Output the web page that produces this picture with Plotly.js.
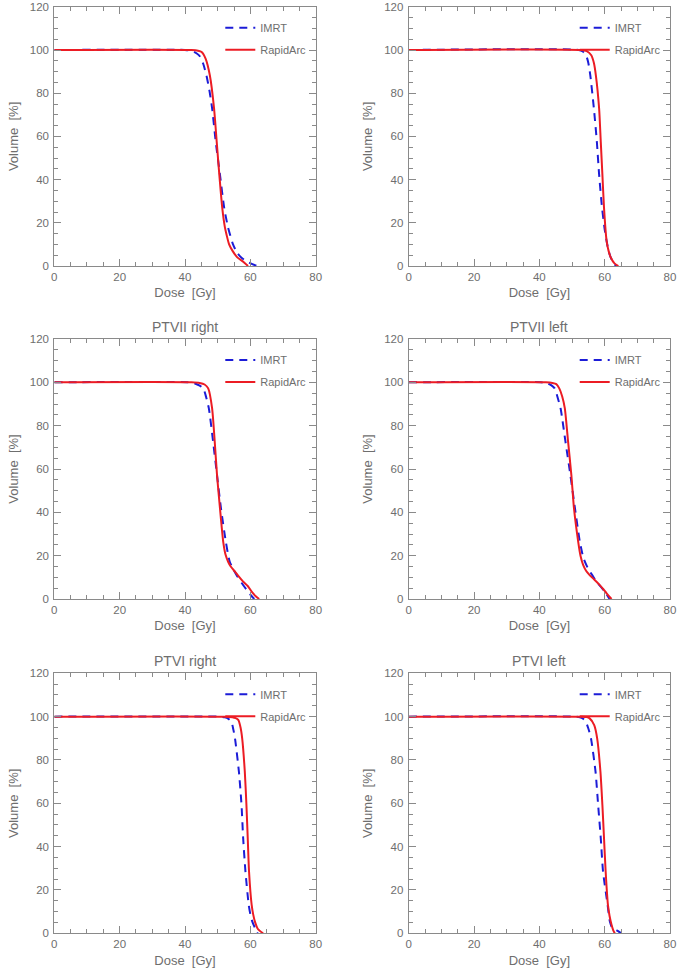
<!DOCTYPE html>
<html>
<head>
<meta charset="utf-8">
<script src="https://cdn.plot.ly/plotly-3.0.1.min.js"></script>
<style>html,body{margin:0;padding:0;background:#fff;}#chart{width:685px;height:977px;}</style>
</head>
<body>
<div id="chart"></div>
<script>
// ---- data (dose in Gy, volume in %) ----
const panelTitles = ["", "", "PTVII right", "PTVII left", "PTVI right", "PTVI left"];
const seriesNames = ["IMRT", "RapidArc"];

// Panel A (top left)
const imrtDoseA = [0, 40, 42, 43.5, 44.6, 45.6, 46.6, 47.5, 48.3, 49.4, 50.7, 52, 53.2, 54.7, 56, 57.3, 59, 60.4, 62];
const imrtVolA  = [100, 100, 99.6, 98.5, 97, 93.5, 88, 81, 73, 57.6, 42.3, 26.9, 17.7, 10, 6, 3.8, 2, 1, 0];
const raDoseA   = [0, 42, 44, 45.1, 46.3, 47.6, 48.9, 49.7, 50.5, 51.4, 52.2, 52.7, 53.5, 54.6, 56, 57.8, 59.3];
const raVolA    = [100, 100, 99.7, 99.1, 96, 88.3, 72.9, 57.6, 42.3, 26.9, 18, 14.6, 10, 6.9, 4, 2, 0];

// Panel B (top right)
const imrtDoseB = [0, 52, 53.3, 54.3, 55, 55.6, 56.7, 57.6, 58.3, 59.2, 60, 60.6, 61.2, 61.9, 62.7, 63.5];
const imrtVolB  = [100, 100, 99.3, 97.6, 94, 88.3, 72.9, 57.6, 42.3, 26.9, 17, 11.5, 7, 3.8, 1.5, 0];
const raDoseB   = [0, 53, 54.5, 55.9, 56.7, 57.3, 58.3, 58.8, 59.3, 59.8, 60.6, 61.2, 61.9, 63, 64.2];
const raVolB    = [100, 100, 99.5, 97.6, 94, 88.3, 72.9, 57.6, 42.3, 26.9, 11.5, 7, 3.8, 1.2, 0];

// Panel C (PTVII right)
const imrtDoseC = [0, 41, 43, 44.5, 45.6, 46.5, 47.3, 48.6, 49.8, 51, 52.5, 53.7, 55.8, 57.3, 59, 60.3, 61.2];
const imrtVolC  = [100, 100, 99.5, 98.5, 97.2, 93, 88, 72.6, 57.2, 41.9, 26.4, 17.2, 11, 7.5, 4, 1.5, 0];
const raDoseC   = [0, 42, 44.5, 46, 47.1, 48.3, 49.1, 49.8, 50.7, 51.7, 52.4, 53.2, 54, 55.3, 56.5, 57.8, 59.2, 60.4, 61.5, 62.7];
const raVolC    = [100, 100, 99.7, 99, 97.2, 88, 72.6, 57.2, 41.9, 26.4, 20.5, 17.2, 15, 12.6, 10.3, 8, 6, 3.4, 1.5, 0];

// Panel D (PTVII left)
const imrtDoseD = [0, 40.5, 42.5, 43.7, 44.7, 45.6, 46.5, 48, 49.5, 50.9, 52.4, 53.5, 54.9, 56.2, 57.5, 58.8, 60, 61.5];
const imrtVolD  = [100, 100, 99.5, 98.6, 97.2, 93, 88, 72.6, 57.2, 41.9, 26.4, 19, 14.1, 11, 8, 5.7, 3.4, 0];
const raDoseD   = [0, 42, 44, 45.2, 46.1, 47, 47.8, 48.8, 49.8, 50.6, 51.9, 52.6, 53.4, 54.3, 55.4, 56.8, 58.5, 59.6, 60.6, 62.1];
const raVolD    = [100, 100, 99.7, 99.2, 97.2, 93.5, 88, 72.6, 57.2, 41.9, 26.4, 20, 15.7, 13, 11, 9, 6.4, 4.5, 2.6, 0];

// Panel E (PTVI right)
const imrtDoseE = [0, 50, 52.2, 53.3, 54.2, 54.8, 55.3, 56.5, 57.3, 57.8, 58.5, 59.5, 60.1, 60.6, 61.4, 62.2];
const imrtVolE  = [100, 100, 99.7, 99, 97.7, 94, 90, 74.6, 59.2, 43.9, 28.5, 13.1, 8, 5.4, 2.5, 0];
const raDoseE   = [0, 52, 54.5, 55.5, 56.3, 57, 57.5, 58.3, 58.8, 59.2, 59.6, 60.4, 60.9, 61.4, 62.3, 63.9];
const raVolE    = [100, 100, 99.7, 99.3, 98.5, 95, 90, 74.6, 59.2, 43.9, 28.5, 13.1, 8.5, 5.4, 2, 0];

// Panel F (PTVI left)
const imrtDoseF = [0, 51, 52.4, 53.4, 54.2, 55, 55.8, 57.2, 58, 58.8, 59.5, 60.9, 61.6, 62.3, 63.6, 65.1];
const imrtVolF  = [100, 100, 99.7, 99, 97.7, 94.5, 90, 74.6, 59.2, 43.9, 28.5, 13.1, 5.4, 2.5, 1.5, 0];
const raDoseF   = [0, 53, 54.5, 55.4, 56.8, 57.7, 58.7, 59.3, 59.8, 60.3, 61, 61.5, 62.1, 62.6, 63.1];
const raVolF    = [100, 100, 99.8, 99.2, 96.1, 90, 74.6, 59.2, 43.9, 28.5, 13.1, 8, 3.9, 1.5, 0];

const xTickVals = [0, 20, 40, 60, 80];
const yTickVals = [0, 20, 40, 60, 80, 100, 120];

// ---- build ----
const W = 685, H = 977;
const panels = [
  [imrtDoseA, imrtVolA, raDoseA, raVolA],
  [imrtDoseB, imrtVolB, raDoseB, raVolB],
  [imrtDoseC, imrtVolC, raDoseC, raVolC],
  [imrtDoseD, imrtVolD, raDoseD, raVolD],
  [imrtDoseE, imrtVolE, raDoseE, raVolE],
  [imrtDoseF, imrtVolF, raDoseF, raVolF]
];
// pixel boxes [left, right, top, bottom]
const colX = [[54.3, 315.7], [408.7, 670]];
const rowY = [[6.8, 266], [339, 599], [673.3, 933.3]];

const txt = '#6e6e6e';
const axc = '#8a8a8a';
const fam = 'Liberation Sans, Arial, sans-serif';

const data = [];
const layout = {
  width: W, height: H,
  margin: {l: 0, r: 0, t: 0, b: 0},
  paper_bgcolor: '#fff', plot_bgcolor: '#fff',
  font: {family: fam, color: txt, size: 12},
  annotations: []
};

panels.forEach((p, i) => {
  const n = i + 1;
  const sfx = n === 1 ? '' : String(n);
  const col = i % 2, row = Math.floor(i / 2);
  const [l, r] = colX[col];
  const [t, b] = rowY[row];
  const legName = 'legend' + sfx;

  data.push({
    x: p[0], y: p[1], type: 'scatter', mode: 'lines', name: seriesNames[0],
    xaxis: 'x' + sfx, yaxis: 'y' + sfx, legend: legName, legendgroup: 'a' + n,
    line: {color: 'rgb(28,28,215)', width: 2, dash: '8px,6px', shape: 'spline', smoothing: 0.6}
  });
  data.push({
    x: p[2], y: p[3], type: 'scatter', mode: 'lines', name: seriesNames[1],
    xaxis: 'x' + sfx, yaxis: 'y' + sfx, legend: legName, legendgroup: 'b' + n,
    line: {color: 'rgb(236,28,36)', width: 2, shape: 'spline', smoothing: 0.6}
  });

  const common = {
    showline: true, linecolor: axc, linewidth: 1, mirror: 'ticks',
    ticks: 'inside', ticklen: 7, tickwidth: 1, tickcolor: axc,
    showgrid: false, zeroline: false, ticklabeloverflow: 'allow',
    tickfont: {family: fam, size: 11.5, color: txt},
    minor: {dtick: 5, ticks: 'inside', ticklen: 4, tickwidth: 1, tickcolor: axc, showgrid: false}
  };
  layout['xaxis' + sfx] = Object.assign({}, common, {
    domain: [l / W, r / W], anchor: 'y' + sfx, range: [0, 80],
    tickmode: 'array', tickvals: xTickVals, ticktext: xTickVals.map(String),
    title: {text: 'Dose  [Gy]', font: {family: fam, size: 13, color: txt}, standoff: 6}
  });
  layout['yaxis' + sfx] = Object.assign({}, common, {
    domain: [1 - b / H, 1 - t / H], anchor: 'x' + sfx, range: [0, 120],
    tickmode: 'array', tickvals: yTickVals, ticktext: yTickVals.map(String),
    ticklabelstandoff: 2,
    title: {text: 'Volume  [%]', font: {family: fam, size: 13, color: txt}, standoff: 8}
  });
  layout[legName] = {
    x: (l + 166) / W, y: 1 - (t + 6.5) / H, xanchor: 'left', yanchor: 'top',
    bgcolor: 'rgba(0,0,0,0)', borderwidth: 0,
    font: {family: fam, size: 11, color: txt},
    traceorder: 'grouped', tracegroupgap: 3, itemwidth: 30
  };
  if (panelTitles[i]) {
    layout.annotations.push({
      text: panelTitles[i], xref: 'paper', yref: 'paper',
      x: ((l + r) / 2) / W, y: 1 - (t - 12) / H, xanchor: 'center', yanchor: 'middle',
      showarrow: false, font: {family: fam, size: 14, color: txt}
    });
  }
});

Plotly.newPlot('chart', data, layout, {displayModeBar: false, staticPlot: true});
</script>
</body>
</html>
